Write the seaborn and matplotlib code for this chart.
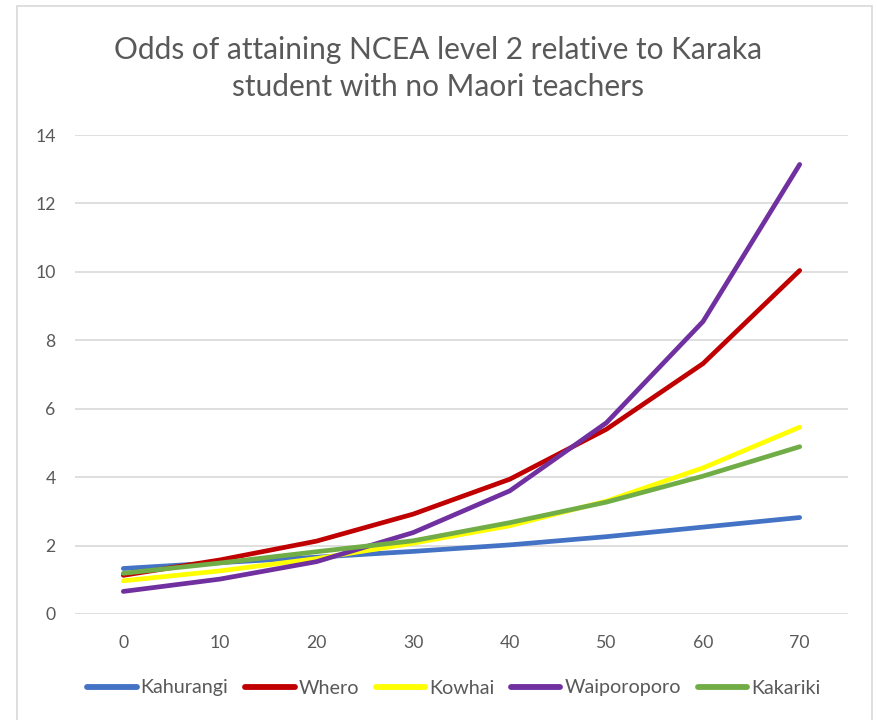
import matplotlib
matplotlib.use("Agg")
import matplotlib.pyplot as plt
from matplotlib.patches import Rectangle
import pandas as pd
import seaborn as sns

# percent of Maori teachers (x) and odds for each group
teacher_pct = [0, 10, 20, 30, 40, 50, 60, 70]
kahurangi = [1.33, 1.50, 1.66, 1.83, 2.02, 2.26, 2.54, 2.82]
whero = [1.13, 1.58, 2.13, 2.92, 3.94, 5.40, 7.32, 10.04]
kowhai = [0.97, 1.26, 1.62, 2.07, 2.58, 3.30, 4.27, 5.46]
waiporoporo = [0.66, 1.02, 1.53, 2.38, 3.60, 5.59, 8.55, 13.14]
kakariki = [1.19, 1.49, 1.82, 2.14, 2.67, 3.27, 4.03, 4.89]

groups = ["Kahurangi", "Whero", "Kowhai", "Waiporoporo", "Kakariki"]
colors = ["#4472C4", "#C00000", "#FFFF00", "#7030A0", "#70AD47"]

title = "Odds of attaining NCEA level 2 relative to Karaka\nstudent with no Maori teachers"

frames = []
for name, vals in zip(groups, [kahurangi, whero, kowhai, waiporoporo, kakariki]):
    frames.append(pd.DataFrame({"pct": teacher_pct, "odds": vals, "group": name}))
df = pd.concat(frames, ignore_index=True)

sns.set_theme(style="white")
plt.rcParams["font.family"] = ["Lato", "DejaVu Sans"]

fig = plt.figure(figsize=(8.77, 7.2), dpi=100)
fig.patch.set_facecolor("white")
# outer chart border (bottom edge lies outside the picture)
fig.patches.append(Rectangle((17 / 877, -0.1), (872 - 17) / 877, 1.1 - 6 / 720,
                             transform=fig.transFigure, fill=False,
                             edgecolor="#D9D9D9", linewidth=1.2))

ax = fig.add_axes([75 / 877, 1 - 614 / 720, (848 - 75) / 877, (614 - 135) / 720])
sns.lineplot(data=df, x="pct", y="odds", hue="group", hue_order=groups,
             palette=colors, linewidth=3.4, ax=ax, legend=True,
             solid_capstyle="round")

ax.set_xlim(-5, 75)
ax.set_ylim(0, 14)
ax.set_xticks(teacher_pct)
ax.set_yticks(range(0, 15, 2))
ax.yaxis.grid(True, color="#D9D9D9", linewidth=1.2)
ax.set_axisbelow(True)
for s in ax.spines.values():
    s.set_visible(False)
ax.tick_params(axis="both", length=0, labelsize=12.7, labelcolor="#595959")
ax.tick_params(axis="y", pad=14)
ax.tick_params(axis="x", pad=15)
ax.set_xlabel("")
ax.set_ylabel("")

fig.text(0.5, 1 - 68.5 / 720, title, ha="center", va="center", fontsize=21.5,
         color="#595959", linespacing=1.43)

handles, labels = ax.get_legend_handles_labels()
for h in handles:
    h.set_linewidth(4.2)
    h.set_solid_capstyle("round")
ax.legend(handles, labels, loc="center", bbox_to_anchor=(0.49, (614 - 688) / (614 - 135)),
          ncol=5, frameon=False, fontsize=14.2, labelcolor="#595959",
          handlelength=2.5, handletextpad=0.2, columnspacing=0.85)

fig.savefig("out.png", dpi=100, facecolor="white")
